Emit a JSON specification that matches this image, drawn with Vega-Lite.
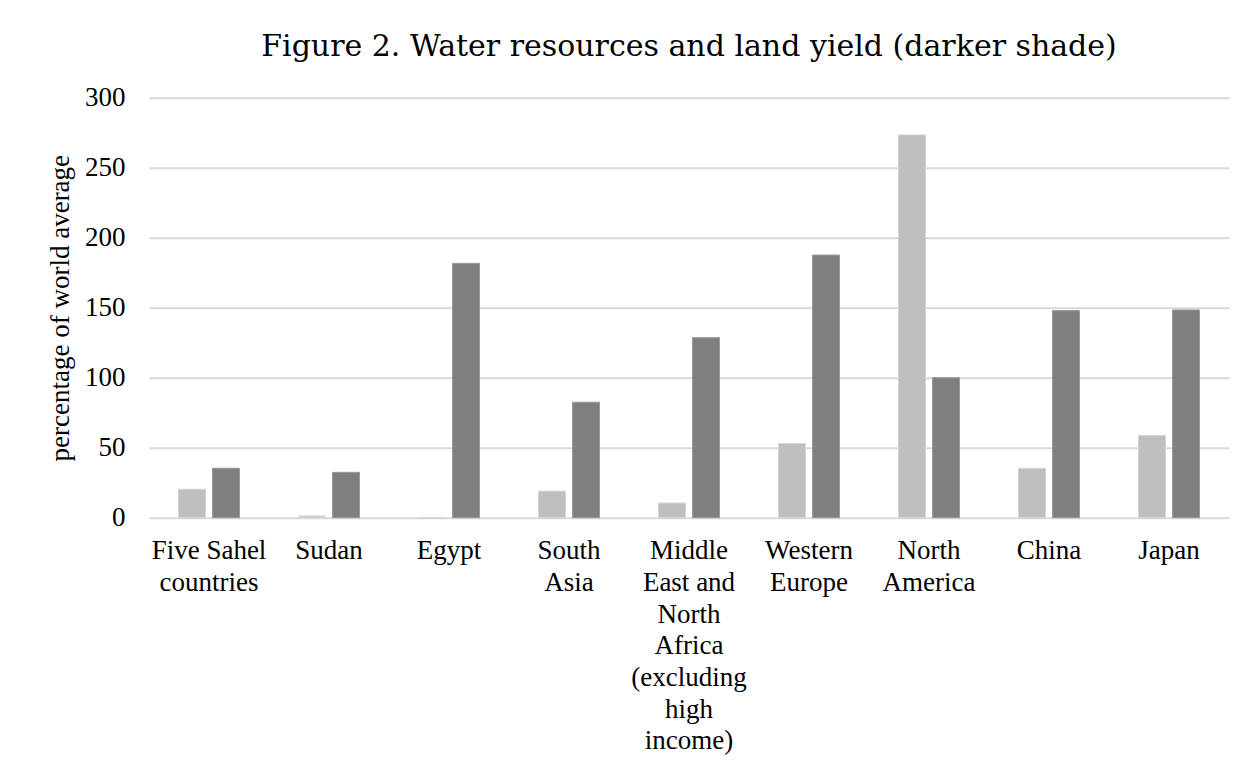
{
  "$schema": "https://vega.github.io/schema/vega-lite/v6.json",
  "width": 1080,
  "height": 420,
  "autosize": {"type": "none"},
  "padding": {"left": 149, "top": 97.7, "right": 29, "bottom": 256.3},
  "background": "white",
  "title": {
    "text": "Figure 2. Water resources and land yield (darker shade)",
    "font": "DejaVu Serif",
    "fontSize": 30,
    "fontWeight": "normal",
    "color": "#000000",
    "anchor": "middle",
    "offset": 22
  },
  "data": {
    "values": [
      {"region": "Five Sahel countries", "series": "Water resources", "value": 20.3},
      {"region": "Five Sahel countries", "series": "Land yield", "value": 35.3},
      {"region": "Sudan", "series": "Water resources", "value": 1.2},
      {"region": "Sudan", "series": "Land yield", "value": 32.4},
      {"region": "Egypt", "series": "Water resources", "value": 0},
      {"region": "Egypt", "series": "Land yield", "value": 181.7},
      {"region": "South Asia", "series": "Water resources", "value": 19},
      {"region": "South Asia", "series": "Land yield", "value": 82.5},
      {"region": "Middle East and North Africa (excluding high income)", "series": "Water resources", "value": 10.5},
      {"region": "Middle East and North Africa (excluding high income)", "series": "Land yield", "value": 128.6},
      {"region": "Western Europe", "series": "Water resources", "value": 53},
      {"region": "Western Europe", "series": "Land yield", "value": 187.6},
      {"region": "North America", "series": "Water resources", "value": 273.4},
      {"region": "North America", "series": "Land yield", "value": 100},
      {"region": "China", "series": "Water resources", "value": 35.3},
      {"region": "China", "series": "Land yield", "value": 147.9},
      {"region": "Japan", "series": "Water resources", "value": 58.8},
      {"region": "Japan", "series": "Land yield", "value": 148.4}
    ]
  },
  "mark": {"type": "bar", "strokeWidth": 1},
  "encoding": {
    "x": {
      "field": "region",
      "type": "nominal",
      "sort": null,
      "scale": {"paddingInner": 0, "paddingOuter": 0},
      "axis": {
        "title": null,
        "domain": false,
        "ticks": false,
        "tickSize": 0,
        "labelAngle": 0,
        "labelFont": "Liberation Serif",
        "labelFontSize": 27,
        "labelColor": "#000000",
        "labelPadding": 20,
        "labelBaseline": "top",
        "labelLineHeight": 31.7,
        "labelLimit": 0,
        "labelExpr": "datum.value == 'Five Sahel countries' ? ['Five Sahel', 'countries'] : datum.value == 'South Asia' ? ['South', 'Asia'] : datum.value == 'Middle East and North Africa (excluding high income)' ? ['Middle', 'East and', 'North', 'Africa', '(excluding', 'high', 'income)'] : datum.value == 'Western Europe' ? ['Western', 'Europe'] : datum.value == 'North America' ? ['North', 'America'] : datum.value"
      }
    },
    "xOffset": {
      "field": "series",
      "type": "nominal",
      "sort": ["Water resources", "Land yield"],
      "scale": {"paddingInner": 0.206, "paddingOuter": 0.868}
    },
    "y": {
      "field": "value",
      "type": "quantitative",
      "scale": {"domain": [0, 300], "nice": false},
      "axis": {
        "title": "percentage of world average",
        "titleFont": "Liberation Serif",
        "titleFontSize": 27,
        "titleFontWeight": "normal",
        "titleColor": "#000000",
        "titlePadding": 10,
        "values": [0, 50, 100, 150, 200, 250, 300],
        "domain": false,
        "ticks": false,
        "tickSize": 0,
        "labelFont": "Liberation Serif",
        "labelFontSize": 27,
        "labelColor": "#000000",
        "labelPadding": 24,
        "grid": true,
        "gridColor": "#d9d9d9",
        "gridWidth": 2
      }
    },
    "color": {
      "field": "series",
      "type": "nominal",
      "scale": {"domain": ["Water resources", "Land yield"], "range": ["#bfbfbf", "#7f7f7f"]},
      "legend": null
    },
    "stroke": {
      "field": "series",
      "type": "nominal",
      "scale": {"domain": ["Water resources", "Land yield"], "range": ["#d4d4d4", "#999999"]},
      "legend": null
    }
  },
  "config": {
    "view": {"stroke": null},
    "font": "Liberation Serif"
  }
}
